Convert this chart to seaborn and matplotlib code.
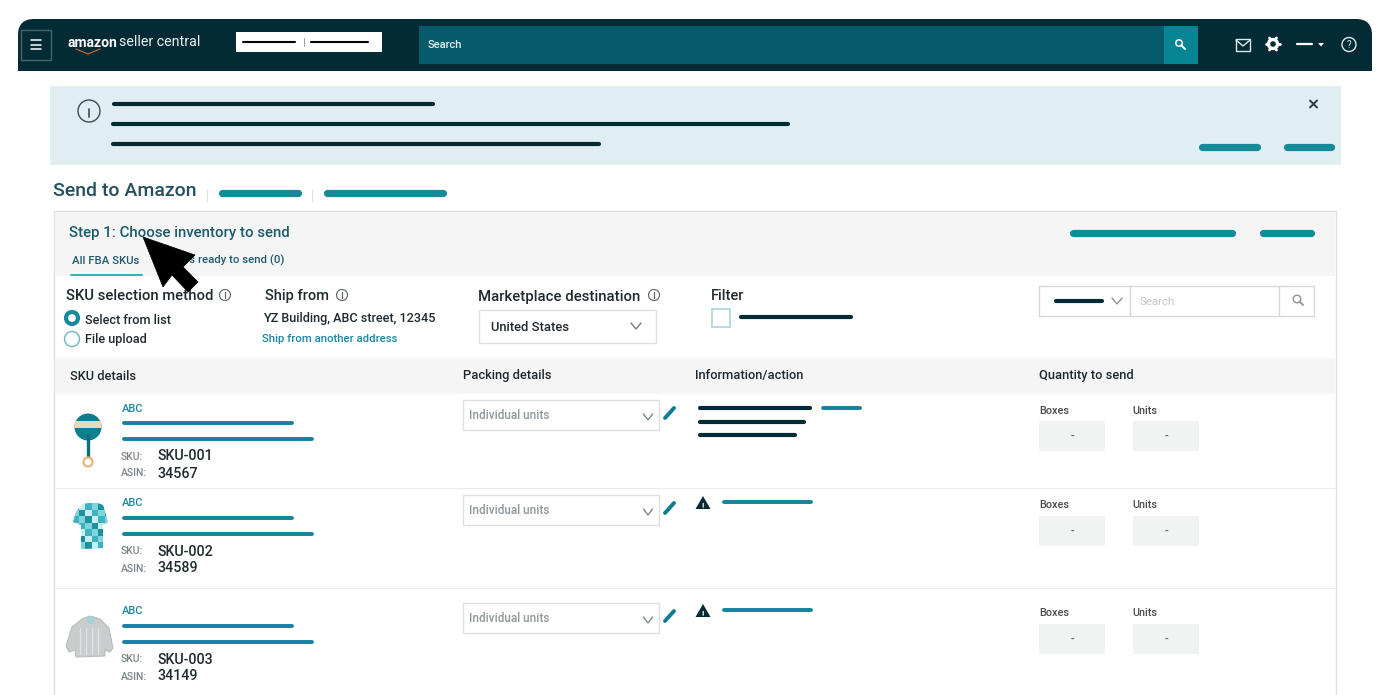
import numpy as np
import pandas as pd
import seaborn as sns
import matplotlib
matplotlib.use('Agg')
import matplotlib.pyplot as plt
from matplotlib.patches import Rectangle, Circle, Polygon, FancyBboxPatch

# Text content
sku_ids = ['SKU-001', 'SKU-002', 'SKU-003']
asins = ['34567', '34589', '34149']
table_headers = ['SKU details', 'Packing details', 'Information/action', 'Quantity to send']
qty_labels = ['Boxes', 'Units']
radio_labels = ['Select from list', 'File upload']
tab_labels = ['All FBA SKUs', 'SKUs ready to send (0)']

# Colours
DARK = '#032b36'
TEAL = '#168a99'
BLUE = '#14829f'
TEXT = '#1f2a30'
GREY = '#f5f5f5'
BORDER = '#dddfe0'

sns.set_theme(style='white')
plt.rcParams['font.family'] = ['Roboto', 'DejaVu Sans']

fig = plt.figure(figsize=(14, 6.95), dpi=100)
ax = fig.add_axes([0, 0, 1, 1])

# Placeholder bars, as (x0, x1, y)
dark_pills = [(114, 433, 103.5), (113, 788, 124), (113, 599, 144), (741, 851, 317),
              (1056, 1102, 301), (700, 810, 408), (700, 804, 421.5), (700, 795, 435)]
teal_thick = [(1202, 1257, 147), (1287, 1331, 147), (222, 298, 193), (327, 443, 193),
              (1073, 1232, 233), (1263, 1311, 233)]
blue_pills = [(823, 860, 408), (724, 811, 502), (724, 811, 610)]
for base in [408, 503, 611]:
    blue_pills += [(124, 292, base + 15), (124, 312, base + 31)]


def draw_pills(pills, color, width):
    rows = []
    for i, (x0, x1, y) in enumerate(pills):
        rows.append({'id': i, 'x': x0, 'y': y})
        rows.append({'id': i, 'x': x1, 'y': y})
    df = pd.DataFrame(rows)
    sns.lineplot(data=df, x='x', y='y', units='id', estimator=None, sort=False, color=color,
                 linewidth=width, solid_capstyle='round', ax=ax, zorder=4)


def box(x0, y0, x1, y1, fc='white', ec='none', lw=1, z=1):
    ax.add_patch(Rectangle((x0, y0), x1 - x0, y1 - y0, facecolor=fc, edgecolor=ec, linewidth=lw, zorder=z))


def label(x, y, s, size=8.5, color=TEXT, weight='medium', ha='left', z=5):
    ax.text(x, y + 1, s, fontsize=size, color=color, fontweight=weight, ha=ha, va='center', zorder=z)


def seg(xs, ys, color, lw=1, z=5, **kw):
    ax.plot(xs, ys, color=color, linewidth=lw, zorder=z, solid_capstyle='round', **kw)


def chevron(x, y, color='#6f7b80', w=5, h=3):
    seg([x - w, x, x + w], [y - h, y + h, y - h], color, lw=1)


def info_icon(x, y, r=5.5, color='#5b6468'):
    ax.add_patch(Circle((x, y), r, facecolor='none', edgecolor=color, linewidth=0.8, zorder=5))
    seg([x, x], [y - r * 0.1, y + r * 0.5], color, lw=0.9)
    seg([x, x], [y - r * 0.5, y - r * 0.45], color, lw=1)


def magnifier(x, y, color, r=3.5, lw=1.2):
    ax.add_patch(Circle((x - 1, y - 1), r, facecolor='none', edgecolor=color, linewidth=lw, zorder=5))
    seg([x + 1.5, x + 5], [y + 1.5, y + 5], color, lw=lw + 0.3)


# Header bar
ax.add_patch(FancyBboxPatch((18, 19), 1354, 60, boxstyle='round,pad=0,rounding_size=16', facecolor=DARK,
                            edgecolor='none', zorder=1))
box(0, 71, 1400, 86, fc='white', z=1.1)
box(18, 50, 1372, 71, fc=DARK, z=1.2)
box(21, 30, 51, 60, fc=DARK, ec='#47656d', lw=1, z=2)
for y in [40, 44.5, 49]:
    seg([31, 41], [y, y], 'white', lw=1.1)
label(68, 42, 'amazon', size=10, color='white', weight='bold')
label(119, 41.5, 'seller central', size=10.3, color='#eef3f4', weight='normal')
seg([76, 88, 100], [49, 54, 49], '#b8683a', lw=0.9)
box(236, 32, 382, 52, fc='white', z=2)
seg([243, 295], [42, 42], 'black', lw=1.5)
seg([304, 304], [38, 46], '#999999', lw=0.7)
seg([311, 368], [42, 42], 'black', lw=1.5)
box(419, 26, 1164, 64, fc='#065b6b', z=2)
box(1164, 26, 1198, 64, fc='#058493', z=2)
label(428, 43.5, 'Search', size=8, color='#e8f2f4')
magnifier(1180, 44, 'white', r=3.2, lw=1.1)
# header icons
box(1235.5, 39, 1250, 50.5, fc='none', ec='#dfe8ea', lw=1, z=5)
seg([1236, 1243, 1250], [40, 46, 40], '#dfe8ea', lw=1)
ax.add_patch(Circle((1273, 44), 4.5, facecolor='none', edgecolor='white', linewidth=2.4, zorder=5))
for a in np.arange(0, 360, 60):
    dx, dy = np.cos(np.radians(a)), np.sin(np.radians(a))
    seg([1273 + 5 * dx, 1273 + 7 * dx], [44 + 5 * dy, 44 + 7 * dy], 'white', lw=2)
seg([1297, 1312], [44, 44], 'white', lw=1.6)
ax.add_patch(Polygon([(1318, 43), (1324, 43), (1321, 46.5)], facecolor='white', edgecolor='none', zorder=5))
ax.add_patch(Circle((1349, 44.5), 7, facecolor='none', edgecolor='#dfe8ea', linewidth=1, zorder=5))
ax.text(1349, 44.5, '?', fontsize=7, color='#dfe8ea', ha='center', va='center', zorder=5)

# Notice banner
box(50, 86, 1341, 165, fc='#e1eef1')
ax.add_patch(Circle((89, 111), 11, facecolor='none', edgecolor='#3d4c52', linewidth=1, zorder=5))
seg([89, 89], [109, 117], '#3d4c52', lw=1.2)
seg([89, 89], [105, 105.3], '#3d4c52', lw=1.5)
seg([1310, 1317], [100.5, 107.5], '#2c3c42', lw=1.4)
seg([1310, 1317], [107.5, 100.5], '#2c3c42', lw=1.4)

label(53, 189.5, 'Send to Amazon', size=14, color='#22505e')
seg([207, 207], [189, 202], '#e0e0e0', lw=0.8)
seg([312, 312], [189, 202], '#e0e0e0', lw=0.8)

# Step card
box(54, 211, 1336, 700, fc='white', ec=BORDER, lw=1)
box(55, 212, 1335, 276, fc=GREY, z=1.1)
label(69, 231.5, 'Step 1: Choose inventory to send', size=10.8, color='#1c5b6c')
label(72, 259.5, tab_labels[0], size=8.2, color='#1c5b6c')
label(284, 259.5, tab_labels[1], size=8.2, color='#1c5b6c', ha='right')
seg([71, 142], [275, 275], '#38adbb', lw=1.4)
ax.add_patch(Polygon([(143, 237), (163, 287), (172, 275), (188, 292), (198, 282), (183, 267), (195, 255)],
                     facecolor='black', edgecolor='black', linewidth=0.5, zorder=8))

# Options row
label(66, 295, 'SKU selection method', size=10.7)
info_icon(225, 295)
label(265, 295, 'Ship from', size=10.5)
info_icon(342, 295)
ax.add_patch(Circle((72, 318), 6, facecolor='white', edgecolor=TEAL, linewidth=3, zorder=5))
ax.add_patch(Circle((72, 339), 7.5, facecolor='white', edgecolor='#72b6c2', linewidth=1, zorder=5))
label(85, 319.5, radio_labels[0], size=9.1)
label(85, 339, radio_labels[1], size=9.1)
label(263, 317.5, 'YZ Building, ABC street, 12345', size=9.1)
label(262, 338, 'Ship from another address', size=8.2, color='#1c86a3')

label(478, 295.5, 'Marketplace destination', size=10.7)
info_icon(654, 295)
box(479, 310, 656, 343, ec=BORDER)
label(491, 326.5, 'United States', size=9.4)
chevron(636, 326)
label(711, 295.5, 'Filter', size=10.5)
box(712, 309, 730, 327, ec='#a5d5dc', lw=1.2)

box(1039, 286, 1314, 316, ec='#d5d7d8')
seg([1130, 1130], [286, 316], '#d5d7d8', lw=1)
seg([1279, 1279], [286, 316], '#d5d7d8', lw=1)
chevron(1117, 301, color='#8a9499')
label(1139, 301, 'Search', size=8.2, color='#c2c6c8', weight='normal')
magnifier(1298, 300, '#8a9499', r=3.8, lw=1)

# Table
box(55, 358, 1335, 394, fc=GREY, z=1.1)
for x, s in zip([70, 463, 695, 1039], table_headers):
    label(x, 375, s, size=9.3)
seg([55, 1335], [488, 488], '#ececec', lw=0.8, z=1.5)
seg([55, 1335], [588, 588], '#ececec', lw=0.8, z=1.5)

row_y = [0, 95, 203]
for i, dy in enumerate(row_y):
    label(122, 407.5 + dy, 'ABC', size=8, color='#1c86a3')
    label(121, 455.5 + dy, 'SKU:', size=7.5, color='#7b858a')
    label(157, 455.5 + dy, sku_ids[i], size=10.3)
    label(121, 472.5 + dy, 'ASIN:', size=7.5, color='#7b858a')
    label(157, 472.5 + dy, asins[i], size=10.3)
    box(463, 400 + dy, 659, 430 + dy, ec=BORDER)
    label(469, 414.5 + dy, 'Individual units', size=8.5, color='#8e979b')
    chevron(648, 417 + dy, color='#7b868b', w=4.5)
    seg([665, 674], [418 + dy, 408 + dy], '#0f7e93', lw=2.8)
    label(1039, 409.5 + dy, qty_labels[0], size=7.8, color='#4c4a50')
    label(1132, 409.5 + dy, qty_labels[1], size=7.8, color='#4c4a50')
    box(1039, 421 + dy, 1105, 451 + dy, fc='#f1f2f2')
    box(1133, 421 + dy, 1199, 451 + dy, fc='#f1f2f2')
    label(1072, 436 + dy, '-', size=8, color='#55626a', ha='center')
    label(1166, 436 + dy, '-', size=8, color='#55626a', ha='center')

for y in [503, 611]:
    ax.add_patch(Polygon([(703, y - 7), (695.5, y + 6), (710.5, y + 6)], facecolor=DARK, edgecolor='none', zorder=5))
    label(703, y + 1, '!', size=6, color='white', ha='center', weight='bold', z=6)

# Product pictures: rattle
seg([88, 88], [435, 458], '#0f6d80', lw=2.4)
ax.add_patch(Circle((88, 462), 4.5, facecolor='white', edgecolor='#eeb27a', linewidth=1.6, zorder=5))
ball = Circle((88, 427), 13.5, facecolor='#0f7e8e', edgecolor='none', zorder=4)
ax.add_patch(ball)
band = Rectangle((74, 421), 28, 7, facecolor='#e8d9b9', edgecolor='none', zorder=5)
ax.add_patch(band)
band.set_clip_path(ball)

# Shirt
shirt = Polygon([(83, 504), (90, 503), (97, 503), (103, 505), (108, 522), (103, 525), (103, 548),
                 (81, 549), (81, 525), (73, 522), (76, 512)], facecolor='#7fd3dc', edgecolor='none', zorder=4)
ax.add_patch(shirt)
cell_colors = ['#1d8f9f', '#c8eef1', '#3fb2c0', '#7fd3dc']
for r in range(8):
    for c in range(6):
        cell = Rectangle((72 + c * 6.5, 503 + r * 6.5), 6.5, 6.5, facecolor=cell_colors[(r * 3 + c) % 4],
                         edgecolor='none', zorder=5)
        ax.add_patch(cell)
        cell.set_clip_path(shirt)

# Sweater
ax.add_patch(Polygon([(90, 616), (100, 619), (109, 628), (113, 648), (110, 652), (105, 650), (105, 656),
                      (76, 657), (75, 650), (69, 652), (66, 646), (72, 627), (82, 619)],
                     facecolor='#c9cdce', edgecolor='#b3b8ba', linewidth=0.7, zorder=4))
for x in [80, 86, 92, 98]:
    seg([x, x], [628, 654], '#e2e4e5', lw=0.9)
ax.add_patch(Circle((91, 620), 4, facecolor='#a7d3d8', edgecolor='none', zorder=5))

# Placeholder bars
draw_pills(dark_pills, DARK, 3)
draw_pills(teal_thick, TEAL, 5.2)
draw_pills(blue_pills, BLUE, 2.8)

ax.set_xlim(0, 1400)
ax.set_ylim(695, 0)
ax.set_xlabel('')
ax.set_ylabel('')
ax.axis('off')

fig.savefig('out.png', dpi=100)
